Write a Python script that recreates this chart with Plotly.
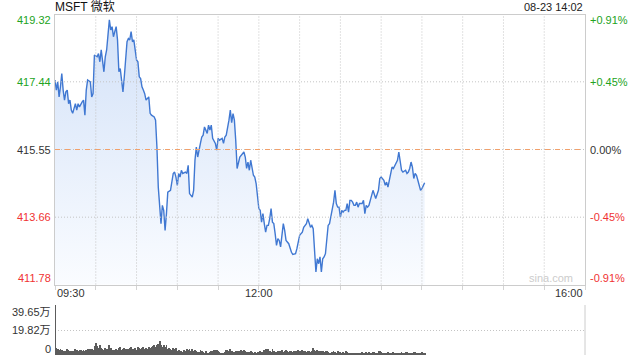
import plotly.graph_objects as go

# ---------------- data ----------------
# minutes after 09:30 (trading session 09:30-16:00 = 390 minutes)
minutes = [
    0, 1, 2, 3, 4, 5, 6, 7, 8, 9, 10, 11, 12, 13, 15, 16, 17, 18, 20, 21, 22, 23, 24, 26, 27, 28,
    29, 31, 32, 33, 34, 36, 37, 38, 39, 40, 41, 42, 43, 44, 45, 46, 47, 48, 49, 50, 51, 53, 54, 55, 56, 57, 58,
    60, 61, 62, 63, 64, 65, 66, 67, 69, 70, 71, 73, 74, 75, 76, 78, 79, 80, 81, 82, 83, 85, 86, 87, 88, 89, 90,
    91, 92, 93, 94, 96, 97, 98,
    99, 101, 102, 103, 104, 105, 107, 108, 109, 110, 112, 113, 114, 115, 116, 118, 119, 120, 121, 123, 124,
    125, 126, 127, 128,
    129, 130, 131, 132, 133, 134, 136, 137, 139, 140, 141, 142, 143, 144, 145, 146, 147, 148,
    150, 151, 152, 153, 154, 155, 156, 157, 158, 159, 160, 161, 162, 163, 164, 165, 166, 167, 168, 169, 170,
    172, 173, 174, 175, 177, 178, 179, 180, 181, 182, 183, 185, 186, 187, 188, 189, 190, 191, 192, 193, 194,
    195, 196, 197, 198, 199,
    200, 201, 202, 203, 204, 205, 206, 207, 208, 209, 210, 211, 212, 213, 214, 215, 216, 217, 218, 219, 220,
    221, 222, 223, 224, 225, 226, 227, 228, 229, 230, 231, 232, 233, 234,
    236, 237, 238, 239, 240,
    242, 243, 244, 245, 246, 247, 248, 249, 250, 251, 252, 253, 254, 255, 256,
    258, 259, 260, 261, 262, 263, 264, 265, 266, 267, 268, 269, 270, 271, 272,
]
prices = [
    417.49, 417.21, 417.44, 417.02, 417.30, 417.67, 417.21, 416.93, 417.16, 417.21, 416.83, 416.93, 416.65,
    416.56, 416.83, 416.65, 416.83, 416.74, 416.88, 416.93, 416.51, 417.21, 417.49, 417.44, 417.02, 417.11,
    418.19, 418.14, 418.23, 418.00, 418.33, 417.72, 418.14, 418.33, 418.75, 419.17, 418.89, 418.98, 418.70,
    418.89, 418.98, 418.61, 417.72, 417.81, 417.39, 417.16, 417.58, 418.56, 418.65, 418.61, 418.84, 418.56,
    418.61,
    418.05, 418.00, 417.58, 417.53, 417.30, 417.21, 417.11, 416.93, 417.02, 416.56, 416.51, 416.46, 416.37,
    415.62, 414.50, 413.48, 413.99, 413.85, 413.29, 413.76, 414.36, 414.41, 414.60, 414.88, 414.92, 414.78,
    414.55, 414.88, 414.78, 414.97, 414.88, 414.92, 414.88, 415.11,
    414.32, 414.22, 414.41, 415.25, 415.62, 415.34, 415.72, 415.90, 415.95, 416.18, 416.00, 416.23, 416.09,
    416.23, 415.86, 415.72, 415.53, 415.86, 415.81, 415.86, 415.72, 415.90, 415.95, 416.14, 416.37,
    416.65, 416.30, 416.55, 416.37, 415.80, 415.02, 415.34, 415.39, 415.48, 415.34, 415.02, 415.20, 414.97,
    415.25, 415.02, 414.83, 414.78, 414.60,
    413.90, 413.85, 413.52, 413.76, 413.48, 413.24, 413.43, 413.43, 413.62, 413.90, 413.52, 413.48, 413.20,
    412.87, 413.06, 413.01, 412.83, 413.20, 413.48, 413.29, 413.01,
    412.92, 412.78, 412.68, 412.62, 412.64, 412.78, 413.01, 413.15, 413.20, 413.24, 413.38, 413.48, 413.62,
    413.48, 413.38, 413.43, 413.34, 412.73, 412.13, 412.50, 412.36, 412.55, 412.13, 412.50, 412.55, 412.64,
    413.01, 413.43, 413.48, 413.66, 413.94, 414.08, 414.41, 414.04, 413.94, 413.94, 413.66, 413.85, 413.80,
    413.85, 413.85, 414.04, 413.80, 414.13, 414.13, 414.08, 413.99, 413.99, 414.08, 413.94, 414.04, 414.04,
    414.04, 414.13, 413.76, 413.99, 413.94, 413.99, 414.13, 414.22, 414.41,
    414.18, 414.32, 414.41, 414.74, 414.78,
    414.69, 414.55, 414.64, 414.50, 414.69, 414.92, 415.06, 415.02, 415.11, 415.16, 415.25, 415.48, 415.16,
    414.97, 414.92,
    414.97, 414.88, 414.92, 415.02, 415.20, 415.06, 414.74, 414.88, 414.83, 414.69, 414.55, 414.41, 414.46,
    414.55, 414.62,
]

# volume per minute, in 万 shares (minute 0 .. 272)
volumes = [
    39.65,
    5.5, 4.7, 4.1, 4.4, 3.6, 3.3, 3.0, 2.8, 4.9, 3.6,
    2.8, 3.0, 3.3, 3.3, 4.9, 4.1, 3.2, 3.7, 4.0, 3.5,
    4.1, 3.5, 3.9, 4.4, 3.8, 4.5, 5.0, 4.2, 6.9, 9.7,
    6.9, 5.5, 8.3, 5.5, 4.7, 3.6, 5.8, 4.4, 4.7, 7.7,
    5.5, 4.1, 4.1, 3.6, 4.4, 3.9, 5.5, 6.4, 4.1, 4.7,
    5.5, 5.0, 4.1, 4.4, 5.5, 6.1, 4.4, 5.0, 5.5, 4.2,
    6.1, 5.2, 4.9, 5.8, 6.1, 4.7, 5.3, 5.0, 6.0, 5.8,
    6.4, 7.2, 8.0, 6.5, 7.7, 9.0, 11.3, 8.3, 6.1, 7.7,
    6.1, 7.7, 5.0, 5.5, 4.7, 3.6, 5.8, 4.9, 5.8, 3.4,
    4.2, 2.8, 3.3, 2.2, 3.6, 2.8, 4.4, 4.2, 4.7, 3.3,
    4.4, 3.3, 4.2, 2.8, 2.2, 2.5, 3.9, 2.8, 2.2, 1.7,
    2.8, 1.9, 1.7, 2.2, 2.8, 3.3, 3.9, 3.6, 4.2, 2.8,
    2.2, 1.7, 1.4, 1.9, 2.5, 3.6, 4.2, 3.3, 4.4, 3.0,
    2.5, 2.2, 2.8, 3.3, 2.8, 3.0, 3.6, 3.0, 3.9, 2.8,
    2.2, 1.9, 2.5, 3.3, 2.5, 1.9, 2.2, 1.7, 2.0, 2.4,
    3.1, 2.2, 2.5, 3.6, 4.9, 2.8, 4.4, 3.0, 2.5, 5.0,
    3.3, 2.2, 2.5, 3.0, 2.8, 3.3, 3.6, 2.5, 3.1, 3.9,
    3.0, 2.5, 2.8, 3.3, 2.5, 3.0, 2.8, 3.3, 3.6, 2.8,
    2.5, 3.9, 3.0, 2.8, 2.2, 3.3, 3.0, 2.5, 3.3, 5.8,
    4.2, 3.3, 3.6, 2.8, 2.2, 3.3, 2.8, 2.2, 2.8, 3.3,
    2.2, 1.7, 1.9, 2.2, 2.8, 2.2, 1.9, 2.8, 2.5, 2.2,
    1.9, 2.2, 1.7, 2.8, 2.2, 1.7, 1.9, 1.4, 1.7, 1.9,
    1.4, 1.7, 1.9, 1.4, 1.7, 2.2, 1.9, 1.7, 2.5, 1.9,
    2.2, 1.7, 1.4, 2.0, 2.2, 1.7, 1.9, 3.3, 2.8, 2.2,
    1.9, 1.7, 1.4, 1.9, 2.2, 1.7, 1.4, 1.9, 2.2, 1.7,
    1.1, 1.4, 1.7, 1.9, 2.2, 1.7, 1.9, 2.2, 2.5, 1.7,
    1.4, 1.7, 1.9, 2.2, 2.5, 1.7, 1.4, 1.7, 1.9, 2.2,
    1.7, 1.9,
]
vol_minutes = list(range(len(volumes)))

prev_close = 415.55
price_ticks = [411.78, 413.66, 415.55, 417.44, 419.32]
price_labels = ["411.78", "413.66", "415.55", "417.44", "419.32"]
pct_labels = ["-0.91%", "-0.45%", "0.00%", "+0.45%", "+0.91%"]
label_colors = ["#f03232", "#f03232", "#333333", "#22a322", "#22a322"]
grid_minutes = [0, 30, 60, 90, 120, 150, 180, 210, 240, 270, 300, 330, 360, 390]
time_ticks = [0, 150, 390]
time_labels = ["09:30", "12:00", "16:00"]
vol_ticks = [0, 19.825, 39.65]
vol_labels = ["0", "19.82万", "39.65万"]

# ---------------- figure ----------------
W, H = 640, 360
L, R = 55, 585
P_TOP, P_BOT = 14.5, 284.5
V_TOP, V_BOT = 305, 355
FONT = "Liberation Sans, Arial, Noto Sans CJK SC, sans-serif"

fig = go.Figure()
fig.add_trace(go.Scatter(
    x=minutes, y=prices, mode="lines",
    line=dict(color="#4078d2", width=1.4),
    fill="tozeroy",
    fillgradient=dict(type="vertical",
                      colorscale=[[0, "rgba(250,252,255,1)"], [1, "rgba(210,225,248,1)"]],
                      start=price_ticks[0], stop=price_ticks[-1]),
    xaxis="x", yaxis="y", hoverinfo="skip",
))
fig.add_trace(go.Bar(
    x=vol_minutes, y=volumes, width=0.6,
    marker=dict(color="#5c5c5c", line=dict(width=0)),
    xaxis="x2", yaxis="y2", hoverinfo="skip",
))

gridc = "#c4c4c4"
fig.update_layout(
    width=W, height=H, autosize=False,
    margin=dict(l=0, r=0, t=0, b=0),
    paper_bgcolor="white", plot_bgcolor="white",
    showlegend=False,
    font=dict(family=FONT, size=11, color="#333"),
    xaxis=dict(domain=[L / W, R / W], range=[0, 390], anchor="y",
               tickvals=grid_minutes, showticklabels=False, showgrid=False,
               showline=True, mirror=True, linecolor="#cccccc", linewidth=1,
               ticks="outside", ticklen=4, tickcolor="#d4d4d4", zeroline=False),
    yaxis=dict(domain=[1 - P_BOT / H, 1 - P_TOP / H], range=[price_ticks[0], price_ticks[-1]],
               anchor="x", tickvals=price_ticks, showticklabels=False, showgrid=False,
               showline=True, mirror=True, linecolor="#cccccc", linewidth=1,
               ticks="", zeroline=False),
    xaxis2=dict(domain=[L / W, R / W], range=[0, 390], anchor="y2",
                showticklabels=False, showgrid=False, zeroline=False, showline=False, ticks=""),
    yaxis2=dict(domain=[1 - V_BOT / H, 1 - V_TOP / H], range=[vol_ticks[0], vol_ticks[-1]],
                anchor="x2", tickvals=vol_ticks, showticklabels=False,
                showgrid=True, gridcolor=gridc, griddash="1px,2px", gridwidth=1,
                showline=False, zeroline=False, ticks=""),
    bargap=0,
)

dot = dict(color=gridc, width=1, dash="1px,2px")
shapes = []
# vertical grid lines (drawn above the area fill, like the reference)
for m in grid_minutes[1:-1]:
    shapes.append(dict(type="line", xref="x", yref="y domain", x0=m, x1=m, y0=0, y1=1,
                       line=dot, layer="above"))
# horizontal grid lines
for v in price_ticks[1:-1]:
    shapes.append(dict(type="line", xref="x domain", yref="y", x0=0, x1=1, y0=v, y1=v,
                       line=dot, layer="above"))
# previous close
shapes.append(dict(type="line", xref="x domain", yref="y", x0=0, x1=1, y0=prev_close, y1=prev_close,
                   line=dict(color="#f2a06a", width=1, dash="5px,5px"), layer="above"))
# right border of volume panel
shapes.append(dict(type="line", xref="x2 domain", yref="y2 domain", x0=1, x1=1, y0=0, y1=1,
                   line=dict(color="#cccccc", width=1)))
fig.update_layout(shapes=shapes)

ann = []
shifts = [6.5, 0, 0, 0, -5.5]
for v, t, pc, c, s in zip(price_ticks, price_labels, pct_labels, label_colors, shifts):
    ann.append(dict(xref="x domain", yref="y", x=0, y=v, text=t, showarrow=False,
                    xanchor="right", yanchor="middle", xshift=-2, yshift=s,
                    font=dict(color=c, size=11)))
    ann.append(dict(xref="x domain", yref="y", x=1, y=v, text=pc, showarrow=False,
                    xanchor="left", yanchor="middle", xshift=3, yshift=s,
                    font=dict(color=c, size=11)))
for v, t, s in zip(vol_ticks, vol_labels, [6.5, 0, -6.5]):
    ann.append(dict(xref="x domain", yref="y2", x=0, y=v, text=t, showarrow=False,
                    xanchor="right", yanchor="middle", xshift=-2, yshift=s,
                    font=dict(color="#333", size=11)))
for v, t, a in zip(time_ticks, time_labels, ["left", "center", "right"]):
    ann.append(dict(xref="x", yref="paper", x=v, y=1 - 293 / H, text=t, showarrow=False,
                    xanchor=a, yanchor="middle", font=dict(color="#333", size=11)))
ann.append(dict(xref="paper", yref="paper", x=L / W, y=1 - 7 / H, text="MSFT 微软", showarrow=False,
                xanchor="left", yanchor="middle", xshift=-2, font=dict(color="#111", size=12)))
ann.append(dict(xref="paper", yref="paper", x=R / W, y=1 - 7 / H, text="08-23 14:02", showarrow=False,
                xanchor="right", yanchor="middle", font=dict(color="#222", size=11)))
ann.append(dict(xref="paper", yref="paper", x=575 / W, y=1 - 278 / H, text="sina.com", showarrow=False,
                xanchor="right", yanchor="middle", font=dict(color="#cccccc", size=11)))
fig.update_layout(annotations=ann)

fig.write_html("out.html")
